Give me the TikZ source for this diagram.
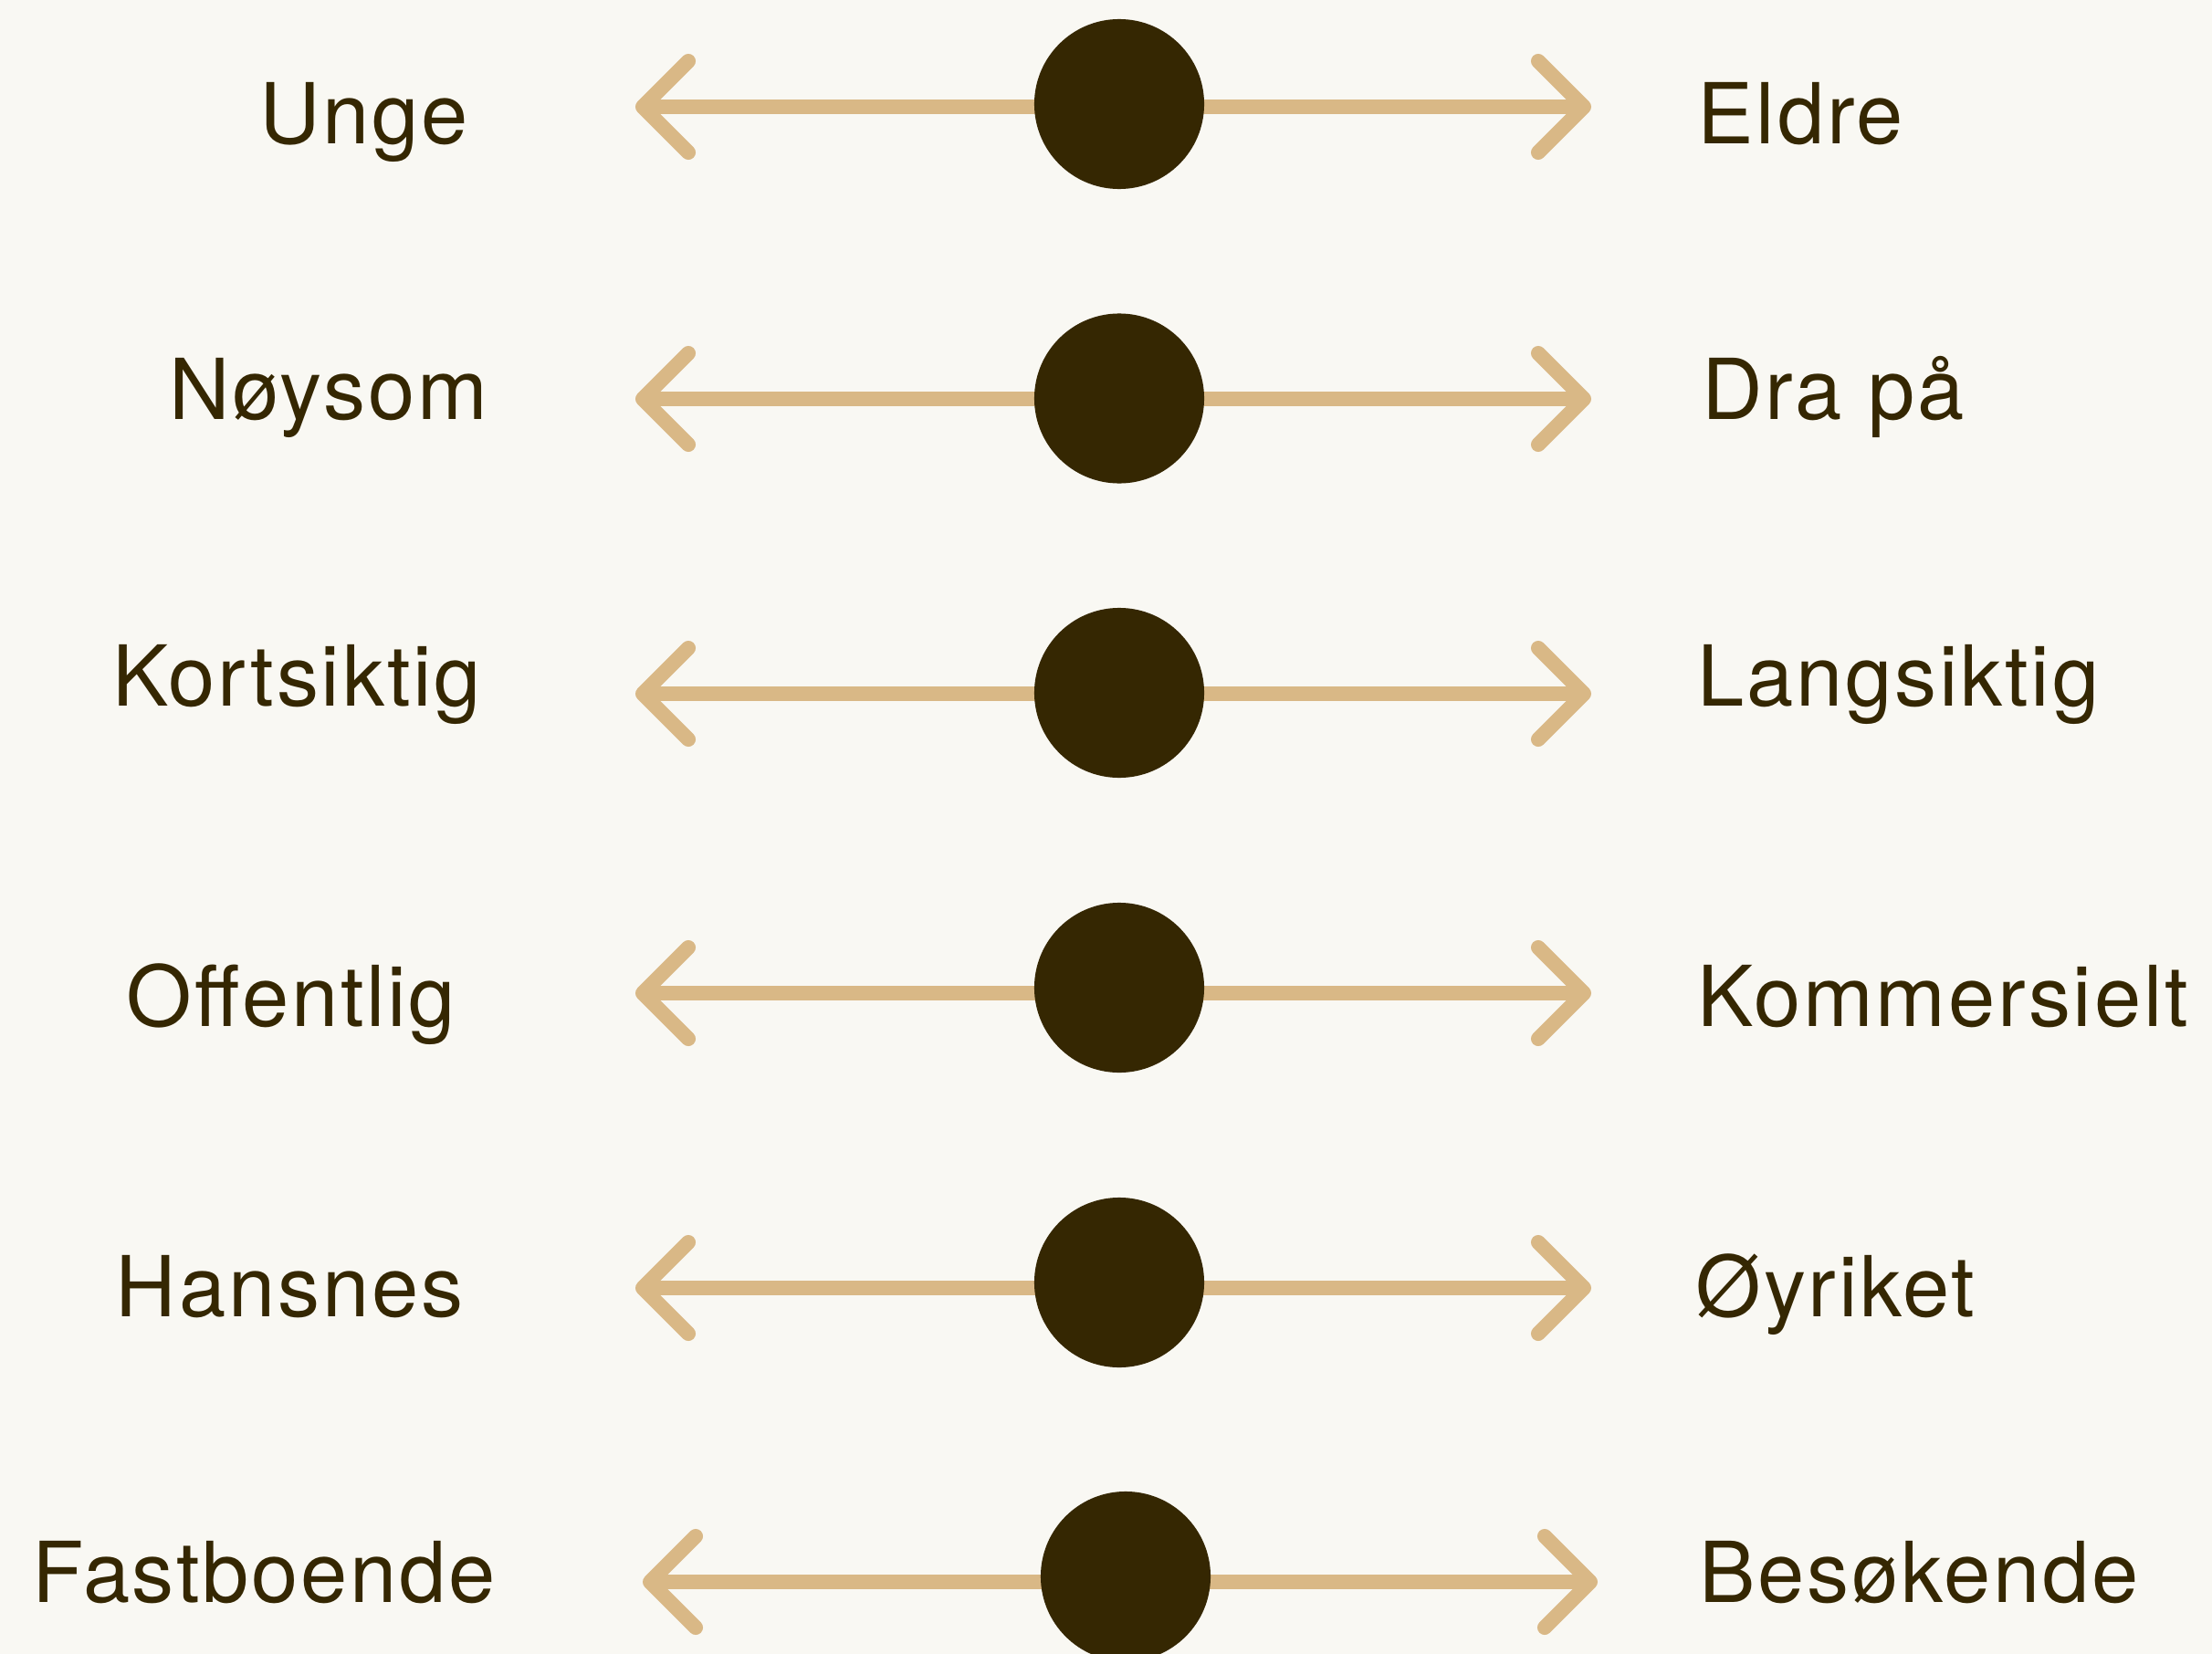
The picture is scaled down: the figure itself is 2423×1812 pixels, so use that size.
\documentclass[tikz,border=0pt]{standalone}
\usepackage{fontspec}
\setmainfont{TeX Gyre Heros}[LetterSpace=3]
\usetikzlibrary{arrows.meta}
\definecolor{bg}{RGB}{249,248,243}
\definecolor{tanline}{RGB}{217,184,134}
\definecolor{ink}{RGB}{53,39,2}
\tikzset{
  barb/.tip={Straight Barb[length=0.5cm,width=1.0cm,round]},
  bar/.style={draw=tanline, line width=0.16cm, line cap=round, barb-barb},
  dot/.style={circle, fill=ink, minimum size=1.86cm, inner sep=0pt},
  lbl/.style={text=ink, font=\fontsize{26.2}{30}\selectfont, inner sep=0pt},
}
\begin{document}
\begin{tikzpicture}[x=0.01cm,y=-0.01cm]
\fill[bg] (0,0) rectangle (2423,1812);
\useasboundingbox (0,0) rectangle (2423,1812);
% row 1
\coordinate (L1) at (696,117); \coordinate (R1) at (1743,117);
\draw[bar] (L1) -- (R1);
\node[dot] (C1) at (1226,114) {};
\node[lbl, anchor=base] (a1) at (399,157) {Unge};
\node[lbl, anchor=base west] (b1) at (1859,157) {Eldre};
% row 2
\coordinate (L2) at (696,437); \coordinate (R2) at (1743,437);
\draw[bar] (L2) -- (R2);
\node[dot] (C2) at (1226,436.5) {};
\node[lbl, anchor=base] (a2) at (360,459) {Nøysom};
\node[lbl, anchor=base west] (b2) at (1864,459) {Dra på};
% row 3
\coordinate (L3) at (696,760); \coordinate (R3) at (1743,760);
\draw[bar] (L3) -- (R3);
\node[dot] (C3) at (1226,759) {};
\node[lbl, anchor=base] (a3) at (325,773) {Kortsiktig};
\node[lbl, anchor=base west] (b3) at (1859,773) {Langsiktig};
% row 4
\coordinate (L4) at (696,1088); \coordinate (R4) at (1743,1088);
\draw[bar] (L4) -- (R4);
\node[dot] (C4) at (1226,1082) {};
\node[lbl, anchor=base] (a4) at (319,1124) {Offentlig};
\node[lbl, anchor=base west] (b4) at (1859,1124) {Kommersielt};
% row 5
\coordinate (L5) at (696,1411); \coordinate (R5) at (1743,1411);
\draw[bar] (L5) -- (R5);
\node[dot] (C5) at (1226,1405) {};
\node[lbl, anchor=base] (a5) at (317,1442) {Hansnes};
\node[lbl, anchor=base west] (b5) at (1857,1442) {Øyriket};
% row 6
\coordinate (L6) at (704,1733); \coordinate (R6) at (1750,1733);
\draw[bar] (L6) -- (R6);
\node[dot] (C6) at (1233,1727) {};
\node[lbl, anchor=base] (a6) at (289,1755) {Fastboende};
\node[lbl, anchor=base west] (b6) at (1861,1755) {Besøkende};
\end{tikzpicture}
\end{document}
